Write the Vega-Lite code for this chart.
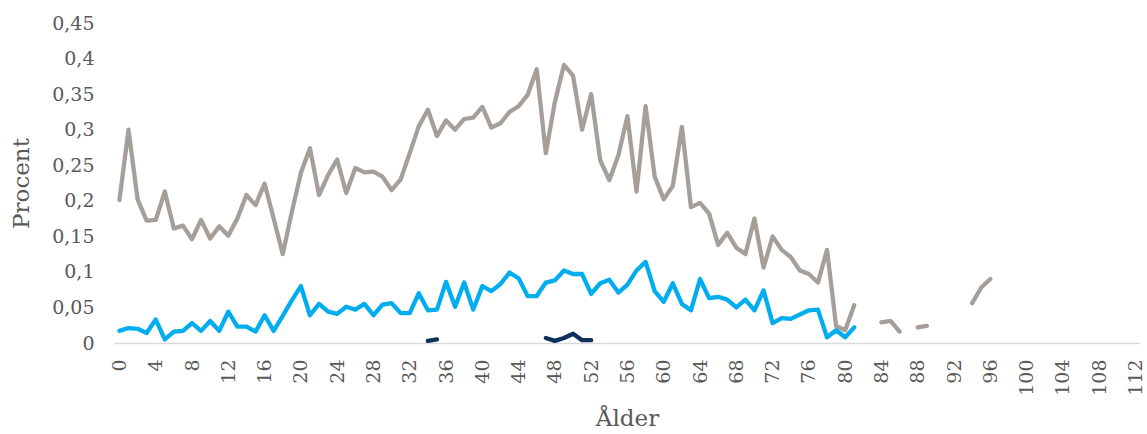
{
  "$schema": "https://vega.github.io/schema/vega-lite/v6.json",
  "width": 1026,
  "height": 320,
  "autosize": "none",
  "padding": {"left": 114, "top": 23, "right": 7, "bottom": 91},
  "background": "white",
  "config": {
    "view": {"stroke": null},
    "font": "DejaVu Serif"
  },
  "data": {
    "values": [
      {"age":0,"serie":"A","value":0.201},{"age":1,"serie":"A","value":0.300},{"age":2,"serie":"A","value":0.202},{"age":3,"serie":"A","value":0.172},{"age":4,"serie":"A","value":0.173},{"age":5,"serie":"A","value":0.213},{"age":6,"serie":"A","value":0.161},{"age":7,"serie":"A","value":0.165},{"age":8,"serie":"A","value":0.146},{"age":9,"serie":"A","value":0.173},
      {"age":10,"serie":"A","value":0.147},{"age":11,"serie":"A","value":0.164},{"age":12,"serie":"A","value":0.151},{"age":13,"serie":"A","value":0.175},{"age":14,"serie":"A","value":0.208},{"age":15,"serie":"A","value":0.194},{"age":16,"serie":"A","value":0.224},{"age":17,"serie":"A","value":0.175},{"age":18,"serie":"A","value":0.125},{"age":19,"serie":"A","value":0.184},
      {"age":20,"serie":"A","value":0.239},{"age":21,"serie":"A","value":0.274},{"age":22,"serie":"A","value":0.208},{"age":23,"serie":"A","value":0.236},{"age":24,"serie":"A","value":0.258},{"age":25,"serie":"A","value":0.211},{"age":26,"serie":"A","value":0.246},{"age":27,"serie":"A","value":0.240},{"age":28,"serie":"A","value":0.241},{"age":29,"serie":"A","value":0.234},
      {"age":30,"serie":"A","value":0.215},{"age":31,"serie":"A","value":0.230},{"age":32,"serie":"A","value":0.267},{"age":33,"serie":"A","value":0.305},{"age":34,"serie":"A","value":0.328},{"age":35,"serie":"A","value":0.291},{"age":36,"serie":"A","value":0.313},{"age":37,"serie":"A","value":0.300},{"age":38,"serie":"A","value":0.315},{"age":39,"serie":"A","value":0.317},
      {"age":40,"serie":"A","value":0.332},{"age":41,"serie":"A","value":0.303},{"age":42,"serie":"A","value":0.309},{"age":43,"serie":"A","value":0.325},{"age":44,"serie":"A","value":0.333},{"age":45,"serie":"A","value":0.349},{"age":46,"serie":"A","value":0.385},{"age":47,"serie":"A","value":0.267},{"age":48,"serie":"A","value":0.339},{"age":49,"serie":"A","value":0.391},
      {"age":50,"serie":"A","value":0.376},{"age":51,"serie":"A","value":0.300},{"age":52,"serie":"A","value":0.350},{"age":53,"serie":"A","value":0.257},{"age":54,"serie":"A","value":0.229},{"age":55,"serie":"A","value":0.264},{"age":56,"serie":"A","value":0.319},{"age":57,"serie":"A","value":0.213},{"age":58,"serie":"A","value":0.333},{"age":59,"serie":"A","value":0.234},
      {"age":60,"serie":"A","value":0.202},{"age":61,"serie":"A","value":0.221},{"age":62,"serie":"A","value":0.304},{"age":63,"serie":"A","value":0.191},{"age":64,"serie":"A","value":0.197},{"age":65,"serie":"A","value":0.182},{"age":66,"serie":"A","value":0.138},{"age":67,"serie":"A","value":0.155},{"age":68,"serie":"A","value":0.134},{"age":69,"serie":"A","value":0.125},
      {"age":70,"serie":"A","value":0.175},{"age":71,"serie":"A","value":0.106},{"age":72,"serie":"A","value":0.150},{"age":73,"serie":"A","value":0.131},{"age":74,"serie":"A","value":0.121},{"age":75,"serie":"A","value":0.102},{"age":76,"serie":"A","value":0.097},{"age":77,"serie":"A","value":0.085},{"age":78,"serie":"A","value":0.131},{"age":79,"serie":"A","value":0.024},
      {"age":80,"serie":"A","value":0.018},{"age":81,"serie":"A","value":0.053},{"age":82,"serie":"A","value":null},{"age":84,"serie":"A","value":0.029},{"age":85,"serie":"A","value":0.031},{"age":86,"serie":"A","value":0.016},{"age":87,"serie":"A","value":null},{"age":88,"serie":"A","value":0.022},{"age":89,"serie":"A","value":0.024},{"age":90,"serie":"A","value":null},
      {"age":94,"serie":"A","value":0.056},{"age":95,"serie":"A","value":0.078},{"age":96,"serie":"A","value":0.090},

      {"age":0,"serie":"B","value":0.017},{"age":1,"serie":"B","value":0.021},{"age":2,"serie":"B","value":0.020},{"age":3,"serie":"B","value":0.014},{"age":4,"serie":"B","value":0.033},{"age":5,"serie":"B","value":0.005},{"age":6,"serie":"B","value":0.016},{"age":7,"serie":"B","value":0.017},{"age":8,"serie":"B","value":0.028},{"age":9,"serie":"B","value":0.017},
      {"age":10,"serie":"B","value":0.031},{"age":11,"serie":"B","value":0.017},{"age":12,"serie":"B","value":0.044},{"age":13,"serie":"B","value":0.023},{"age":14,"serie":"B","value":0.023},{"age":15,"serie":"B","value":0.016},{"age":16,"serie":"B","value":0.039},{"age":17,"serie":"B","value":0.017},{"age":18,"serie":"B","value":0.038},{"age":19,"serie":"B","value":0.060},
      {"age":20,"serie":"B","value":0.080},{"age":21,"serie":"B","value":0.039},{"age":22,"serie":"B","value":0.055},{"age":23,"serie":"B","value":0.044},{"age":24,"serie":"B","value":0.041},{"age":25,"serie":"B","value":0.051},{"age":26,"serie":"B","value":0.047},{"age":27,"serie":"B","value":0.055},{"age":28,"serie":"B","value":0.039},{"age":29,"serie":"B","value":0.054},
      {"age":30,"serie":"B","value":0.056},{"age":31,"serie":"B","value":0.042},{"age":32,"serie":"B","value":0.042},{"age":33,"serie":"B","value":0.070},{"age":34,"serie":"B","value":0.046},{"age":35,"serie":"B","value":0.047},{"age":36,"serie":"B","value":0.086},{"age":37,"serie":"B","value":0.051},{"age":38,"serie":"B","value":0.085},{"age":39,"serie":"B","value":0.047},
      {"age":40,"serie":"B","value":0.080},{"age":41,"serie":"B","value":0.073},{"age":42,"serie":"B","value":0.083},{"age":43,"serie":"B","value":0.099},{"age":44,"serie":"B","value":0.091},{"age":45,"serie":"B","value":0.066},{"age":46,"serie":"B","value":0.066},{"age":47,"serie":"B","value":0.085},{"age":48,"serie":"B","value":0.088},{"age":49,"serie":"B","value":0.102},
      {"age":50,"serie":"B","value":0.097},{"age":51,"serie":"B","value":0.097},{"age":52,"serie":"B","value":0.069},{"age":53,"serie":"B","value":0.084},{"age":54,"serie":"B","value":0.089},{"age":55,"serie":"B","value":0.071},{"age":56,"serie":"B","value":0.082},{"age":57,"serie":"B","value":0.102},{"age":58,"serie":"B","value":0.114},{"age":59,"serie":"B","value":0.073},
      {"age":60,"serie":"B","value":0.058},{"age":61,"serie":"B","value":0.084},{"age":62,"serie":"B","value":0.055},{"age":63,"serie":"B","value":0.046},{"age":64,"serie":"B","value":0.090},{"age":65,"serie":"B","value":0.063},{"age":66,"serie":"B","value":0.065},{"age":67,"serie":"B","value":0.061},{"age":68,"serie":"B","value":0.050},{"age":69,"serie":"B","value":0.061},
      {"age":70,"serie":"B","value":0.046},{"age":71,"serie":"B","value":0.074},{"age":72,"serie":"B","value":0.028},{"age":73,"serie":"B","value":0.035},{"age":74,"serie":"B","value":0.034},{"age":75,"serie":"B","value":0.040},{"age":76,"serie":"B","value":0.046},{"age":77,"serie":"B","value":0.047},{"age":78,"serie":"B","value":0.008},{"age":79,"serie":"B","value":0.018},
      {"age":80,"serie":"B","value":0.008},{"age":81,"serie":"B","value":0.022},

      {"age":34,"serie":"C","value":0.003},{"age":35,"serie":"C","value":0.005},{"age":36,"serie":"C","value":null},
      {"age":47,"serie":"C","value":0.007},{"age":48,"serie":"C","value":0.003},{"age":49,"serie":"C","value":0.007},{"age":50,"serie":"C","value":0.013},{"age":51,"serie":"C","value":0.004},{"age":52,"serie":"C","value":0.004}
    ]
  },
  "mark": {
    "type": "line",
    "strokeWidth": 4.3,
    "strokeCap": "round",
    "strokeJoin": "round",
    "invalid": "break-paths-show-domains"
  },
  "encoding": {
    "x": {
      "field": "age",
      "type": "quantitative",
      "scale": {"domain": [-0.6, 112.5], "nice": false, "zero": false},
      "axis": {
        "title": "Ålder",
        "titleFont": "DejaVu Serif",
        "titleFontSize": 23,
        "titleFontWeight": "normal",
        "titleColor": "#595959",
        "titlePadding": 12,
        "values": [0,4,8,12,16,20,24,28,32,36,40,44,48,52,56,60,64,68,72,76,80,84,88,92,96,100,104,108,112],
        "labelAngle": -90,
        "labelFont": "DejaVu Serif",
        "labelFontSize": 19,
        "labelColor": "#595959",
        "labelPadding": 16,
        "labelFlush": false,
        "labelOverlap": false,
        "ticks": false,
        "tickSize": 0,
        "grid": false,
        "domainColor": "#D9D9D9",
        "domainWidth": 1.5
      }
    },
    "y": {
      "field": "value",
      "type": "quantitative",
      "scale": {"domain": [0, 0.45], "nice": false},
      "axis": {
        "title": "Procent",
        "titleFont": "DejaVu Serif",
        "titleFontSize": 23,
        "titleFontWeight": "normal",
        "titleColor": "#595959",
        "titlePadding": 18,
        "values": [0,0.05,0.1,0.15,0.2,0.25,0.3,0.35,0.4,0.45],
        "labelExpr": "replace(format(datum.value, '.2~f'), '.', ',')",
        "labelFont": "DejaVu Serif",
        "labelFontSize": 19,
        "labelColor": "#595959",
        "labelPadding": 20,
        "ticks": false,
        "tickSize": 0,
        "grid": false,
        "domain": false
      }
    },
    "color": {
      "field": "serie",
      "type": "nominal",
      "scale": {"domain": ["A", "B", "C"], "range": ["#A69E99", "#00ADEF", "#0C2F5C"]},
      "legend": null
    }
  }
}
